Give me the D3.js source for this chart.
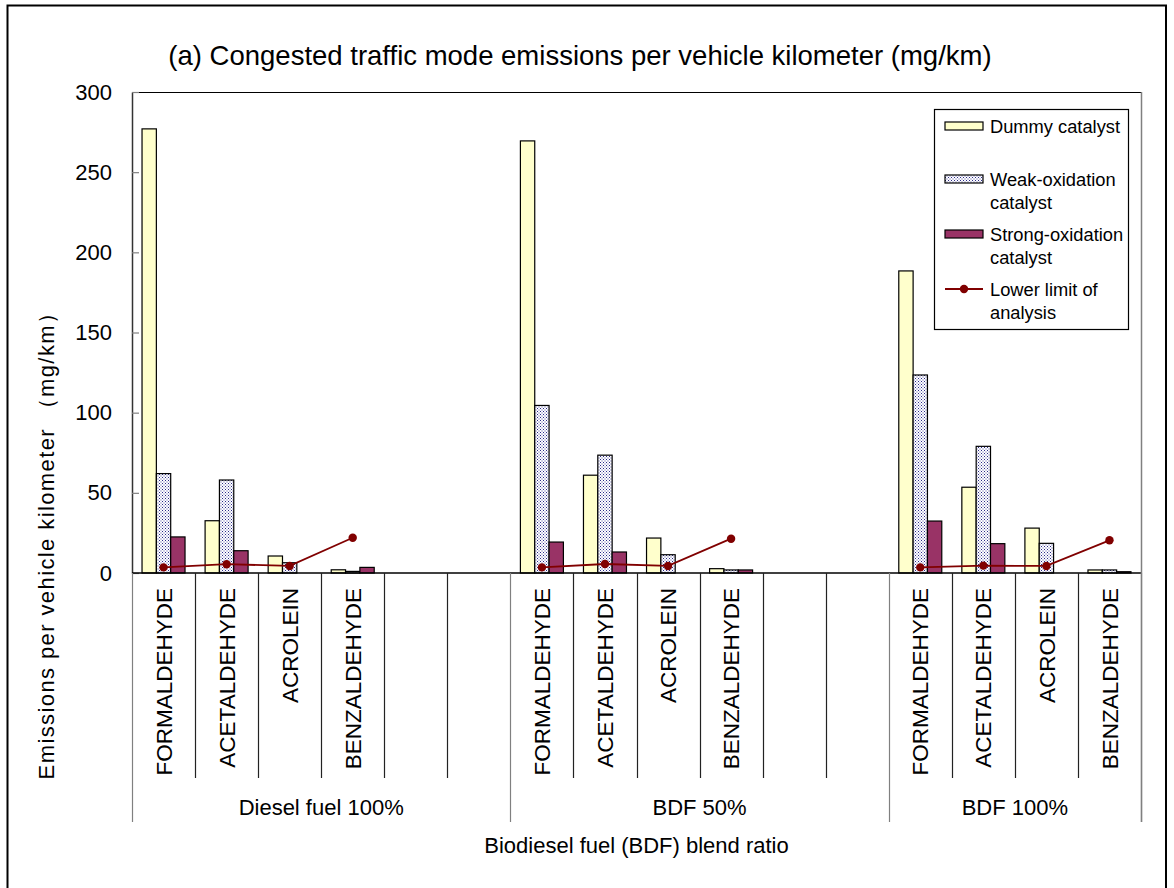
<!DOCTYPE html>
<html>
<head>
<meta charset="utf-8">
<script src="https://cdn.jsdelivr.net/npm/d3@7"></script>
<style>
  html, body { margin: 0; padding: 0; background: #fff; }
  svg { display: block; font-family: "Liberation Sans", Arial, sans-serif; }
</style>
</head>
<body>
<svg id="chart" width="1174" height="888"></svg>
<script>
// Aldehyde emissions by blend ratio and catalyst (mg/km)
const blends = ["Diesel fuel 100%", "BDF 50%", "BDF 100%"];
const compounds = ["FORMALDEHYDE", "ACETALDEHYDE", "ACROLEIN", "BENZALDEHYDE"];
const blankSlots = [2, 2, 0];          // empty category slots after each blend group
const seriesNames = ["Dummy catalyst", "Weak-oxidation catalyst", "Strong-oxidation catalyst"];
const lineName = "Lower limit of analysis";

// values listed blend by blend, compound order as above
const dummy  = [277, 32.6, 10.6, 2.0,   269.5, 61, 21.8, 2.7,   188.4, 53.5, 28, 1.9];
const weak   = [62, 58, 6.4, 1.0,       104.5, 73.5, 11.4, 1.9, 123.5, 79, 18.5, 1.9];
const strong = [22.5, 13.9, 0, 3.5,     19.3, 13.1, 0, 1.9,     32.4, 18.3, 0, 0.8];
const lowerLimit = [3.5, 5.5, 4.4, 22,  3.5, 5.6, 4.4, 21.4,    3.5, 4.6, 4.4, 20.4];

const yTicks = [0, 50, 100, 150, 200, 250, 300];

const title = "(a) Congested traffic mode emissions per vehicle kilometer (mg/km)";
const yTitle = "Emissions per vehicle kilometer （mg/km）";
const xTitle = "Biodiesel fuel (BDF) blend ratio";

const svg = d3.select("#chart");
const plot = { left: 132, right: 1141, top: 92, bottom: 573 };

// pattern for the weak-oxidation bars
const defs = svg.append("defs");
const pat = defs.append("pattern").attr("id", "dots")
  .attr("width", 3).attr("height", 3).attr("patternUnits", "userSpaceOnUse");
pat.append("rect").attr("width", 3).attr("height", 3).attr("fill", "#ffffff");
pat.append("rect").attr("x", 0).attr("y", 0).attr("width", 1).attr("height", 1).attr("fill", "#2a2a88");
pat.append("rect").attr("x", 1.5).attr("y", 1.5).attr("width", 1).attr("height", 1).attr("fill", "#4a4aa0");

const fills = ["#FFFFCC", "url(#dots)", "#993366"];
const seriesValues = [dummy, weak, strong];

// outer frame
svg.append("rect").attr("x", 7.5).attr("y", 5.5).attr("width", 1158.5).attr("height", 890)
  .attr("fill", "none").attr("stroke", "#000").attr("stroke-width", 2);

// category slots
const slots = [];
blends.forEach((b, gi) => {
  compounds.forEach((c, ci) => slots.push({ id: gi + "-" + ci, blend: gi, compound: c, idx: gi * compounds.length + ci }));
  for (let k = 0; k < blankSlots[gi]; k++) slots.push({ id: gi + "-b" + k, blend: gi, compound: null });
});
const x = d3.scaleBand().domain(slots.map(s => s.id)).range([plot.left, plot.right]).padding(0);
const xs = d3.scaleBand().domain(d3.range(3)).range([0, x.bandwidth()]).paddingInner(0).paddingOuter(0.7);
const y = d3.scaleLinear().domain([0, 300]).range([plot.bottom, plot.top]);

// plot frame: top edge
svg.append("line").attr("x1", plot.left).attr("x2", plot.right).attr("y1", plot.top + 0.5).attr("y2", plot.top + 0.5)
  .attr("stroke", "#000").attr("stroke-width", 1.2);

// bars
const barSlots = slots.filter(s => s.compound);
seriesValues.forEach((vals, si) => {
  svg.append("g").selectAll("rect")
    .data(barSlots.filter(s => vals[s.idx] > 0))
    .join("rect")
    .attr("x", s => x(s.id) + xs(si))
    .attr("y", s => y(vals[s.idx]))
    .attr("width", xs.bandwidth())
    .attr("height", s => y(0) - y(vals[s.idx]))
    .attr("fill", fills[si])
    .attr("stroke", "#000").attr("stroke-width", 1.2);
});

// lower limit line, one segment per blend group
const lineGen = d3.line().x(s => x(s.id) + x.bandwidth() / 2).y(s => y(lowerLimit[s.idx]));
blends.forEach((b, gi) => {
  const pts = barSlots.filter(s => s.blend === gi);
  svg.append("path").attr("d", lineGen(pts)).attr("fill", "none")
    .attr("stroke", "#800000").attr("stroke-width", 1.8);
});
svg.append("g").selectAll("circle").data(barSlots).join("circle")
  .attr("cx", s => x(s.id) + x.bandwidth() / 2)
  .attr("cy", s => y(lowerLimit[s.idx]))
  .attr("r", 4.2).attr("fill", "#800000");

// y axis
const yAxis = d3.axisLeft(y).tickValues(yTicks).tickSizeInner(-7).tickSizeOuter(0).tickPadding(20);
const gy = svg.append("g").attr("transform", `translate(${plot.left},0)`).call(yAxis);
gy.select(".domain").attr("stroke", "#333").attr("stroke-width", 1.5);
gy.selectAll(".tick line").attr("stroke", "#808080").attr("stroke-width", 1.2);
gy.selectAll(".tick text").attr("font-size", 22).attr("fill", "#000")
  .attr("font-family", "'Liberation Sans', Arial, sans-serif");

// x axis baseline
svg.append("line").attr("x1", plot.left).attr("x2", plot.right).attr("y1", plot.bottom).attr("y2", plot.bottom)
  .attr("stroke", "#000").attr("stroke-width", 1.5);

// slot separators
const bounds = slots.map(s => x(s.id));
bounds.push(plot.right);
const groupStarts = new Set();
let acc = 0;
blends.forEach((b, gi) => { groupStarts.add(acc); acc += compounds.length + blankSlots[gi]; });
groupStarts.add(slots.length);
svg.append("g").selectAll("line").data(bounds.map((bx, i) => ({ bx, i }))).join("line")
  .attr("x1", d => Math.round(d.bx) + 0.5).attr("x2", d => Math.round(d.bx) + 0.5)
  .attr("y1", plot.bottom)
  .attr("y2", d => groupStarts.has(d.i) ? 822 : 778)
  .attr("stroke", d => groupStarts.has(d.i) ? "#808080" : "#222")
  .attr("stroke-width", 1.2);
// right frame edge
svg.append("line").attr("x1", plot.right + 0.5).attr("x2", plot.right + 0.5).attr("y1", plot.top).attr("y2", 822)
  .attr("stroke", "#808080").attr("stroke-width", 1.5);

// compound labels
svg.append("g").selectAll("text").data(barSlots).join("text")
  .attr("transform", s => `translate(${x(s.id) + x.bandwidth() / 2},588) rotate(-90)`)
  .attr("text-anchor", "end").attr("dy", "0.36em")
  .attr("font-size", 22.5).attr("fill", "#000")
  .text(s => s.compound);

// blend group labels
blends.forEach((b, gi) => {
  const grp = slots.filter(s => s.blend === gi);
  const x0 = x(grp[0].id), x1 = x(grp[grp.length - 1].id) + x.bandwidth();
  svg.append("text").attr("x", (x0 + x1) / 2).attr("y", 815)
    .attr("text-anchor", "middle").attr("font-size", 22).attr("fill", "#000").text(b);
});

// titles
svg.append("text").attr("x", 580).attr("y", 65).attr("text-anchor", "middle")
  .attr("font-size", 27.5).attr("fill", "#000").text(title);
svg.append("text").attr("x", (plot.left + plot.right) / 2).attr("y", 853).attr("text-anchor", "middle")
  .attr("font-size", 22).attr("fill", "#000").text(xTitle);
svg.append("text").attr("transform", "translate(46,540) rotate(-90)")
  .attr("text-anchor", "middle").attr("dy", "0.36em")
  .attr("font-size", 22).attr("letter-spacing", 1.4).attr("fill", "#000").text(yTitle);

// legend
const lg = svg.append("g");
lg.append("rect").attr("x", 934.5).attr("y", 109.5).attr("width", 194).attr("height", 220)
  .attr("fill", "#fff").attr("stroke", "#000").attr("stroke-width", 1.2);
const legendRows = [
  { lines: ["Dummy catalyst"], y: 126, kind: 0 },
  { lines: ["Weak-oxidation", "catalyst"], y: 179, kind: 1 },
  { lines: ["Strong-oxidation", "catalyst"], y: 234, kind: 2 },
  { lines: ["Lower limit of", "analysis"], y: 289, kind: 3 }
];
legendRows.forEach(r => {
  if (r.kind < 3) {
    lg.append("rect").attr("x", 945).attr("y", r.y - 4).attr("width", 38).attr("height", 8)
      .attr("fill", fills[r.kind]).attr("stroke", "#000").attr("stroke-width", 1.2);
  } else {
    lg.append("line").attr("x1", 945).attr("x2", 983).attr("y1", r.y).attr("y2", r.y)
      .attr("stroke", "#800000").attr("stroke-width", 1.8);
    lg.append("circle").attr("cx", 964).attr("cy", r.y).attr("r", 4.2).attr("fill", "#800000");
  }
  r.lines.forEach((t, i) => {
    lg.append("text").attr("x", 990).attr("y", r.y + i * 23).attr("dy", "0.36em")
      .attr("font-size", 18.3).attr("fill", "#000").text(t);
  });
});
</script>
</body>
</html>
